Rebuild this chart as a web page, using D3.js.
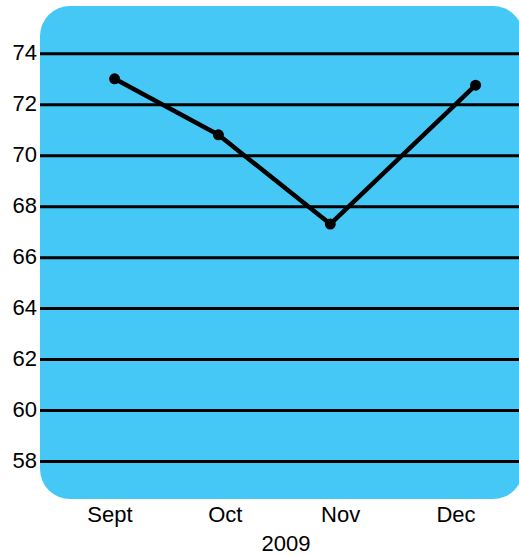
<!DOCTYPE html>
<html>
<head>
<meta charset="utf-8">
<script src="https://cdn.jsdelivr.net/npm/d3@7"></script>
<style>
  body { margin: 0; background: #fff; }
  svg { display: block; }
  text { font-family: "Liberation Sans", Arial, Helvetica, sans-serif; fill: #000; }
</style>
</head>
<body>
<div id="chart"></div>
<script>
// Data
const months = ["Sept", "Oct", "Nov", "Dec"];
const monthPos = [0.04, 0.94, 1.91, 3.17]; // where each point sits, in month units
const values = [73.0, 70.8, 67.3, 72.75];
const yTicks = [58, 60, 62, 64, 66, 68, 70, 72, 74];
const yearLabel = "2009";

const width = 519;
const height = 556;
const panel = { left: 40, top: 6, right: 523, bottom: 499, radius: 30 };

const svg = d3
  .select("#chart")
  .append("svg")
  .attr("width", width)
  .attr("height", height);

const xScale = d3.scaleLinear().domain([0, 3]).range([110, 456]);
const yScale = d3.scaleLinear().domain([58, 74]).range([461, 53.3]);

// Blue panel
svg
  .append("rect")
  .attr("x", panel.left)
  .attr("y", panel.top)
  .attr("width", panel.right - panel.left)
  .attr("height", panel.bottom - panel.top)
  .attr("rx", panel.radius)
  .attr("fill", "#45c8f5");

// Grid lines + tick labels
const yAxis = svg
  .append("g")
  .attr("transform", `translate(${panel.left}, 0)`)
  .call(
    d3
      .axisRight(yScale)
      .tickValues(yTicks)
      .tickSize(width - panel.left)
      .tickPadding(0)
  );

yAxis.select(".domain").remove();
yAxis.selectAll(".tick line").attr("stroke", "#000").attr("stroke-width", 3);
yAxis
  .selectAll(".tick text")
  .attr("x", -3)
  .attr("dy", "0.28em")
  .attr("text-anchor", "end")
  .attr("font-size", "22px")
  .attr("font-family", null);

// X labels
svg
  .append("g")
  .selectAll("text")
  .data(months)
  .enter()
  .append("text")
  .attr("x", (d, i) => xScale(i))
  .attr("y", 522)
  .attr("text-anchor", "middle")
  .attr("font-size", "22px")
  .text((d) => d);

svg
  .append("text")
  .attr("x", 286)
  .attr("y", 551)
  .attr("text-anchor", "middle")
  .attr("font-size", "22px")
  .text(yearLabel);

// Line
const points = values.map((v, i) => ({ x: monthPos[i], y: v }));

svg
  .append("path")
  .datum(points)
  .attr("fill", "none")
  .attr("stroke", "#000")
  .attr("stroke-width", 4.5)
  .attr("stroke-linejoin", "round")
  .attr(
    "d",
    d3
      .line()
      .x((d) => xScale(d.x))
      .y((d) => yScale(d.y))
  );

svg
  .selectAll("circle")
  .data(points)
  .enter()
  .append("circle")
  .attr("cx", (d) => xScale(d.x))
  .attr("cy", (d) => yScale(d.y))
  .attr("r", 5.5)
  .attr("fill", "#000");
</script>
</body>
</html>
